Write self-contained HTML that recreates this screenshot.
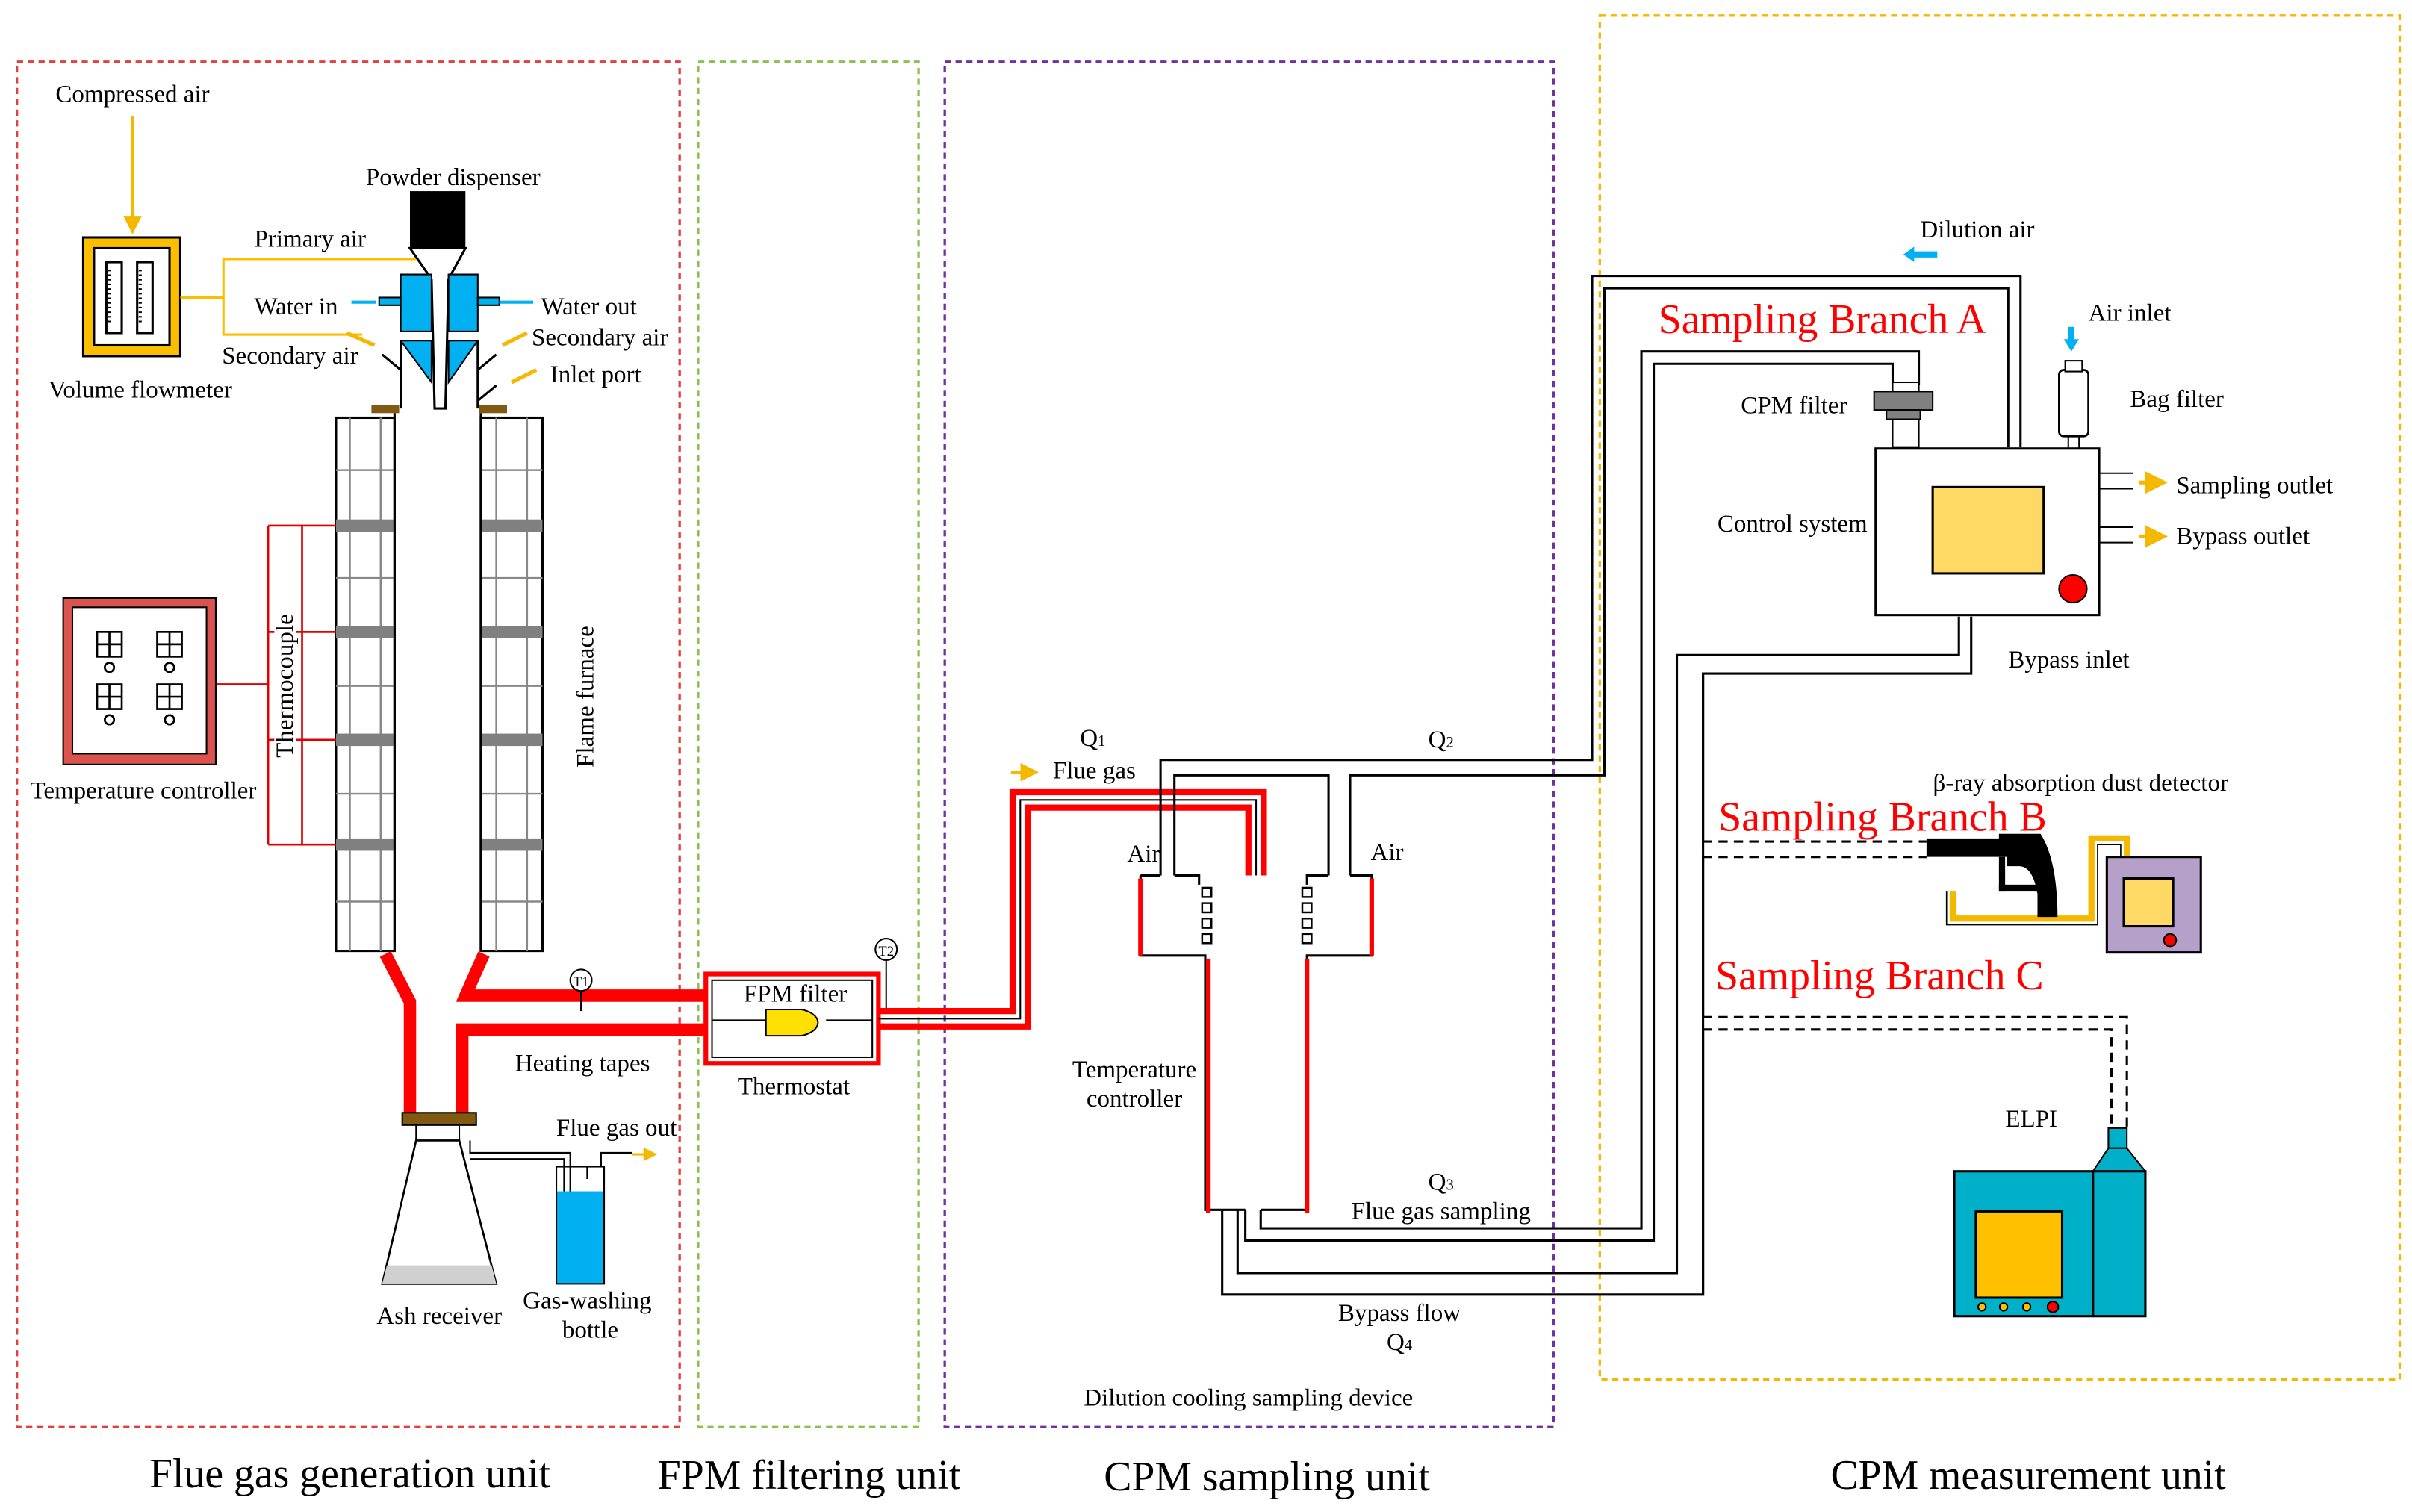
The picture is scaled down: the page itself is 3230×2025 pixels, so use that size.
<!DOCTYPE html>
<html><head><meta charset="utf-8"><style>
html,body{margin:0;padding:0;background:#fff}
svg{display:block}
text{font-family:"Liberation Serif",serif;fill:#000}
</style></head><body>
<svg width="3230" height="2025" viewBox="0 0 1565 981" xmlns="http://www.w3.org/2000/svg">
<defs>
<marker id="ar" markerWidth="6" markerHeight="6" refX="5" refY="3" orient="auto"><path d="M0,0L6,3L0,6z" fill="#f5b800"/></marker>
</defs>
<rect width="1565" height="981" fill="#fff"/>
<rect x="11" y="40" width="430" height="886" fill="none" stroke="#e04040" stroke-width="1.6" stroke-dasharray="4,3"/>
<rect x="453" y="40" width="143" height="886" fill="none" stroke="#8cc050" stroke-width="1.6" stroke-dasharray="4,3"/>
<rect x="613" y="40" width="395" height="886" fill="none" stroke="#7030a0" stroke-width="1.6" stroke-dasharray="4,3"/>
<rect x="1038" y="10" width="519" height="885" fill="none" stroke="#f5b800" stroke-width="1.6" stroke-dasharray="4,3"/>
<g font-size="27" text-anchor="middle">
<text x="227" y="965">Flue gas generation unit</text>
<text x="525" y="966">FPM filtering unit</text>
<text x="822" y="967">CPM sampling unit</text>
<text x="1316" y="966">CPM measurement unit</text>
</g>
<g font-size="16">
<text x="86" y="66" text-anchor="middle">Compressed air</text>
<line x1="86" y1="75" x2="86" y2="150" stroke="#f5b800" stroke-width="2" marker-end="url(#ar)"/>
<rect x="54" y="154" width="63" height="77" fill="#fbbf00" stroke="#000" stroke-width="1.5"/>
<rect x="61" y="161" width="49" height="63" fill="#fff" stroke="#000" stroke-width="1.5"/>
<rect x="69" y="170" width="10" height="46" fill="#fff" stroke="#000" stroke-width="1.5"/>
<rect x="89" y="170" width="10" height="46" fill="#fff" stroke="#000" stroke-width="1.5"/>
<path d="M71,175V210 M91,175V210" stroke="#000" stroke-width="2" stroke-dasharray="1,2"/>
<text x="91" y="258" text-anchor="middle">Volume flowmeter</text>
<polyline points="117,193 145,193 145,168 270,168" fill="none" stroke="#fbbf00" stroke-width="1.5"/>
<polyline points="145,193 145,217 235,217" fill="none" stroke="#fbbf00" stroke-width="1.5"/>
<text x="165" y="160">Primary air</text>
<text x="165" y="204">Water in</text>
<text x="144" y="236">Secondary air</text>
<text x="351" y="204">Water out</text>
<text x="345" y="224">Secondary air</text>
<text x="357" y="248">Inlet port</text>
<text x="294" y="120" text-anchor="middle">Powder dispenser</text>
<rect x="266" y="124" width="36" height="37" fill="#000"/>
<polygon points="266,161 302,161 291,181 289,265 282,265 280,181" fill="#fff" stroke="#000" stroke-width="1.5"/>
<path d="M260,178 H280 V215 H260Z M291,178 H310 V215 H291Z" fill="#00b0f0" stroke="#000" stroke-width="1"/>
<path d="M260,221 L280,248 V221Z M310,221 L291,248 V221Z" fill="#00b0f0" stroke="#000" stroke-width="1"/>
<rect x="246" y="193" width="14" height="5" fill="#00b0f0" stroke="#000"/>
<rect x="310" y="193" width="14" height="5" fill="#00b0f0" stroke="#000"/>
<line x1="324" y1="196" x2="346" y2="196" stroke="#00b0f0" stroke-width="2"/>
<line x1="228" y1="196" x2="244" y2="196" stroke="#00b0f0" stroke-width="2"/>
<path d="M260,221 L260,265 M310,221 L310,265" stroke="#000" stroke-width="1.5"/>
<path d="M260,240 L248,230 M310,240 L322,230 M310,260 L322,250" stroke="#000" stroke-width="1.5"/>
<path d="M225,216 L243,224 M342,216 L326,224 M348,240 L332,248" stroke="#f5b800" stroke-width="2.5"/>
<rect x="241" y="263" width="18" height="5" fill="#7f5a10"/>
<rect x="311" y="263" width="18" height="5" fill="#7f5a10"/>
<g stroke="#000" stroke-width="1.5" fill="#fff">
<rect x="218" y="271" width="38" height="346"/>
<rect x="312" y="271" width="40" height="346"/>
</g>
<g stroke="#888" stroke-width="1.2">
<path d="M227,271V617 M247,271V617 M322,271V617 M342,271V617"/>
<path d="M218,305H256 M218,375H256 M218,445H256 M218,515H256 M218,585H256 M312,305H352 M312,375H352 M312,445H352 M312,515H352 M312,585H352"/>
</g>
<g fill="#808080"><rect x="218" y="337" width="38" height="8"/><rect x="218" y="406" width="38" height="8"/><rect x="218" y="476" width="38" height="8"/><rect x="218" y="544" width="38" height="8"/>
<rect x="312" y="337" width="40" height="8"/><rect x="312" y="406" width="40" height="8"/><rect x="312" y="476" width="40" height="8"/><rect x="312" y="544" width="40" height="8"/></g>
<path d="M256,268V617 M312,268V617" stroke="#000" stroke-width="1.5"/>
<text transform="translate(385,452) rotate(-90)" text-anchor="middle">Flame furnace</text>
<path d="M174,341V548 M174,341H218 M174,410H218 M174,480H218 M174,548H218 M196,341V548 M140,444H174" fill="none" stroke="#e00000" stroke-width="1.3"/>
<rect x="178" y="395" width="14" height="100" fill="#fff"/>
<text transform="translate(190,445) rotate(-90)" text-anchor="middle">Thermocouple</text>
<rect x="41" y="388" width="99" height="108" fill="#d9534f" stroke="#000"/>
<rect x="47" y="394" width="87" height="95" fill="#fff" stroke="#000"/>
<g fill="none" stroke="#000" stroke-width="1.3"><rect x="63" y="410" width="16" height="16"/><rect x="102" y="410" width="16" height="16"/><rect x="63" y="444" width="16" height="16"/><rect x="102" y="444" width="16" height="16"/>
<path d="M71,410V426M63,418H79M110,410V426M102,418H118M71,444V460M63,452H79M110,444V460M102,452H118"/>
<circle cx="71" cy="433" r="3"/><circle cx="110" cy="433" r="3"/><circle cx="71" cy="467" r="3"/><circle cx="110" cy="467" r="3"/></g>
<text x="93" y="518" text-anchor="middle">Temperature controller</text>
<path d="M250,619 L266,650 V722 M314,619 L302,646 H458 M300,722 V668 H458" fill="none" stroke="#f00" stroke-width="8"/>
<line x1="377" y1="642" x2="377" y2="656" stroke="#000"/><circle cx="377" cy="636" r="7" fill="#fff" stroke="#000"/><text x="377" y="640" font-size="9" text-anchor="middle">T1</text>
<text x="378" y="695" text-anchor="middle">Heating tapes</text>
<rect x="261" y="722" width="48" height="8" fill="#7f5a10" stroke="#000"/>
<rect x="270" y="730" width="28" height="10" fill="#fff" stroke="#000"/>
<polygon points="270,740 248,833 322,833 298,740" fill="#fff" stroke="#000" stroke-width="1.3"/>
<polygon points="251,821 319,821 322,833 248,833" fill="#d0d0d0"/>
<text x="285" y="859" text-anchor="middle">Ash receiver</text>
<polyline points="305,740 305,748 370,748 370,825" fill="none" stroke="#000"/>
<polyline points="305,752 366,752 366,825" fill="none" stroke="#000"/>
<rect x="361" y="773" width="31" height="60" fill="#00b0f0"/>
<rect x="361" y="757" width="31" height="76" fill="none" stroke="#000"/>
<polyline points="381,765 381,757 390,757 390,748 410,748" fill="none" stroke="#000"/>
<line x1="410" y1="749" x2="425" y2="749" stroke="#f5b800" stroke-width="1.5" marker-end="url(#ar)"/>
<text x="400" y="737" text-anchor="middle">Flue gas out</text>
<text x="381" y="849" text-anchor="middle">Gas-washing</text>
<text x="383" y="868" text-anchor="middle">bottle</text>
<rect x="458" y="632" width="112" height="58" fill="#fff" stroke="#f00" stroke-width="3"/>
<rect x="462" y="636" width="104" height="50" fill="none" stroke="#000"/>
<text x="516" y="650" text-anchor="middle">FPM filter</text>
<path d="M497,655 H520 A16,9 0 0 1 520,672 H497 Z" fill="#ffe000" stroke="#000"/>
<path d="M462,662H497 M536,662H566" stroke="#000"/>
<text x="515" y="710" text-anchor="middle">Thermostat</text>
<line x1="575" y1="622" x2="575" y2="658" stroke="#000"/><circle cx="575" cy="616" r="7" fill="#fff" stroke="#000"/><text x="575" y="620" font-size="9" text-anchor="middle">T2</text>
<path d="M570,656 H657 V514 H820 V568 M570,666 H667 V524 H810 V568" fill="none" stroke="#f00" stroke-width="4"/>
<path d="M570,661 H662 V519 H815 V568" fill="none" stroke="#000" stroke-width="1"/>
<text x="709" y="484" text-anchor="middle">Q<tspan font-size="10">1</tspan></text>
<text x="710" y="505" text-anchor="middle">Flue gas</text>
<line x1="656" y1="501" x2="672" y2="501" stroke="#f5b800" stroke-width="2" marker-end="url(#ar)"/>
<g fill="none" stroke="#000" stroke-width="1.5">
<path d="M740,568 H753 M762,568 H778 V574 M848,574 V568 H862 M876,568 H890 V620 H848 V785 H818 M808,785 H782 V620 H740 V568"/>
<path d="M753,568 V493 H1033 V179 H1311 V290"/>
<path d="M876,568 V503 H1041 V187 H1303 V290"/>
<path d="M762,568 V503 H862 V568"/>
<path d="M818,785 V797 H1065 V228 H1245 V250"/>
<path d="M808,785 V805 H1073 V236 H1228 V250"/>
<path d="M803,785 V826 H1088 V425 H1271 V400"/>
<path d="M793,785 V840 H1105 V437 H1279 V400"/>
</g>
<g fill="#fff" stroke="#000" stroke-width="1.2">
<rect x="780" y="576" width="6" height="6"/><rect x="780" y="586" width="6" height="6"/><rect x="780" y="596" width="6" height="6"/><rect x="780" y="606" width="6" height="6"/>
<rect x="845" y="576" width="6" height="6"/><rect x="845" y="586" width="6" height="6"/><rect x="845" y="596" width="6" height="6"/><rect x="845" y="606" width="6" height="6"/>
</g>
<path d="M740,570V620 M890,570V620 M784,622V787 M848,622V787" stroke="#f00" stroke-width="3"/>
<text x="742" y="559" text-anchor="middle">Air</text>
<text x="900" y="558" text-anchor="middle">Air</text>
<text x="935" y="485" text-anchor="middle">Q<tspan font-size="10">2</tspan></text>
<text x="736" y="699" text-anchor="middle">Temperature</text>
<text x="736" y="718" text-anchor="middle">controller</text>
<text x="935" y="772" text-anchor="middle">Q<tspan font-size="10">3</tspan></text>
<text x="935" y="791" text-anchor="middle">Flue gas sampling</text>
<text x="908" y="857" text-anchor="middle">Bypass flow</text>
<text x="908" y="876" text-anchor="middle">Q<tspan font-size="10">4</tspan></text>
<text x="810" y="912" text-anchor="middle">Dilution cooling sampling device</text>
<text x="1283" y="154" text-anchor="middle">Dilution air</text>
<polygon points="1235,165 1242,160 1242,163 1257,163 1257,167 1242,167 1242,170" fill="#00b0f0"/>
<text x="1076" y="216" font-size="27" style="fill:#f00">Sampling Branch A</text>
<text x="1355" y="208">Air inlet</text>
<polygon points="1344,228 1339,220 1342,220 1342,212 1346,212 1346,220 1349,220" fill="#00b0f0"/>
<rect x="1336" y="240" width="19" height="43" rx="3" fill="#fff" stroke="#000" stroke-width="1.3"/>
<rect x="1340" y="234" width="11" height="7" fill="#fff" stroke="#000"/>
<path d="M1342,283V291 M1349,283V291" stroke="#000"/>
<text x="1382" y="264">Bag filter</text>
<text x="1164" y="268" text-anchor="middle">CPM filter</text>
<rect x="1228" y="248" width="17" height="42" fill="#fff" stroke="#000"/>
<rect x="1216" y="254" width="38" height="12" fill="#808080" stroke="#000"/>
<rect x="1224" y="266" width="22" height="6" fill="#808080" stroke="#000"/>
<rect x="1217" y="291" width="145" height="108" fill="#fff" stroke="#000" stroke-width="1.5"/>
<rect x="1254" y="316" width="72" height="56" fill="#ffd966" stroke="#000" stroke-width="1.5"/>
<circle cx="1345" cy="382" r="9" fill="#f00" stroke="#000"/>
<text x="1163" y="345" text-anchor="middle">Control system</text>
<path d="M1362,307H1384 M1362,317H1384 M1362,342H1384 M1362,352H1384" stroke="#000"/>
<line x1="1388" y1="313" x2="1404" y2="313" stroke="#f5b800" stroke-width="2.5" marker-end="url(#ar)"/>
<line x1="1388" y1="348" x2="1404" y2="348" stroke="#f5b800" stroke-width="2.5" marker-end="url(#ar)"/>
<text x="1412" y="320">Sampling outlet</text>
<text x="1412" y="353">Bypass outlet</text>
<text x="1303" y="433">Bypass inlet</text>
<text x="1350" y="513" text-anchor="middle">β-ray absorption dust detector</text>
<text x="1115" y="539" font-size="27" style="fill:#f00">Sampling Branch B</text>
<text x="1113" y="642" font-size="27" style="fill:#f00">Sampling Branch C</text>
<path d="M1105,546 H1250 M1105,556 H1250 M1105,660 H1380 V732 M1105,668 H1370 V732" fill="none" stroke="#000" stroke-dasharray="6,4" stroke-width="1.5"/>
<path d="M1105,546V437 M1105,556V660 M1105,668V840" stroke="#000" stroke-width="1.5"/>
<polyline points="1267,578 1267,596 1357,596 1357,544 1380,544 1380,556" fill="none" stroke="#f5b800" stroke-width="4"/>
<polyline points="1263,578 1263,600 1361,600 1361,548 1376,548 1376,556" fill="none" stroke="#000" stroke-width="0.8"/>
<path d="M1250,544 H1297 V541 H1324 C1331,552 1335,570 1335,595 H1322 V580 C1320,568 1316,562 1310,562 H1302 V556 H1250 Z" fill="#000"/>
<rect x="1297" y="556" width="4" height="22" fill="#000"/>
<rect x="1297" y="574" width="25" height="4" fill="#000"/>
<rect x="1367" y="556" width="61" height="62" fill="#b4a0c8" stroke="#000" stroke-width="1.5"/>
<rect x="1378" y="570" width="32" height="31" fill="#ffd966" stroke="#000" stroke-width="1.5"/>
<circle cx="1408" cy="610" r="4" fill="#f00" stroke="#000"/>
<text x="1318" y="731" text-anchor="middle">ELPI</text>
<rect x="1368" y="732" width="12" height="13" fill="#00b0c8" stroke="#000"/>
<polygon points="1368,745 1380,745 1392,760 1358,760" fill="#00b0c8" stroke="#000"/>
<rect x="1268" y="760" width="124" height="94" fill="#00b0c8" stroke="#000" stroke-width="1.5"/>
<line x1="1358" y1="760" x2="1358" y2="854" stroke="#000" stroke-width="1.5"/>
<rect x="1282" y="786" width="56" height="56" fill="#ffc000" stroke="#000" stroke-width="1.5"/>
<g fill="#ffc000" stroke="#000"><circle cx="1286" cy="848" r="2.5"/><circle cx="1300" cy="848" r="2.5"/><circle cx="1315" cy="848" r="2.5"/></g>
<circle cx="1332" cy="848" r="3.5" fill="#f00" stroke="#000"/>
</g>
</svg>
</body></html>
